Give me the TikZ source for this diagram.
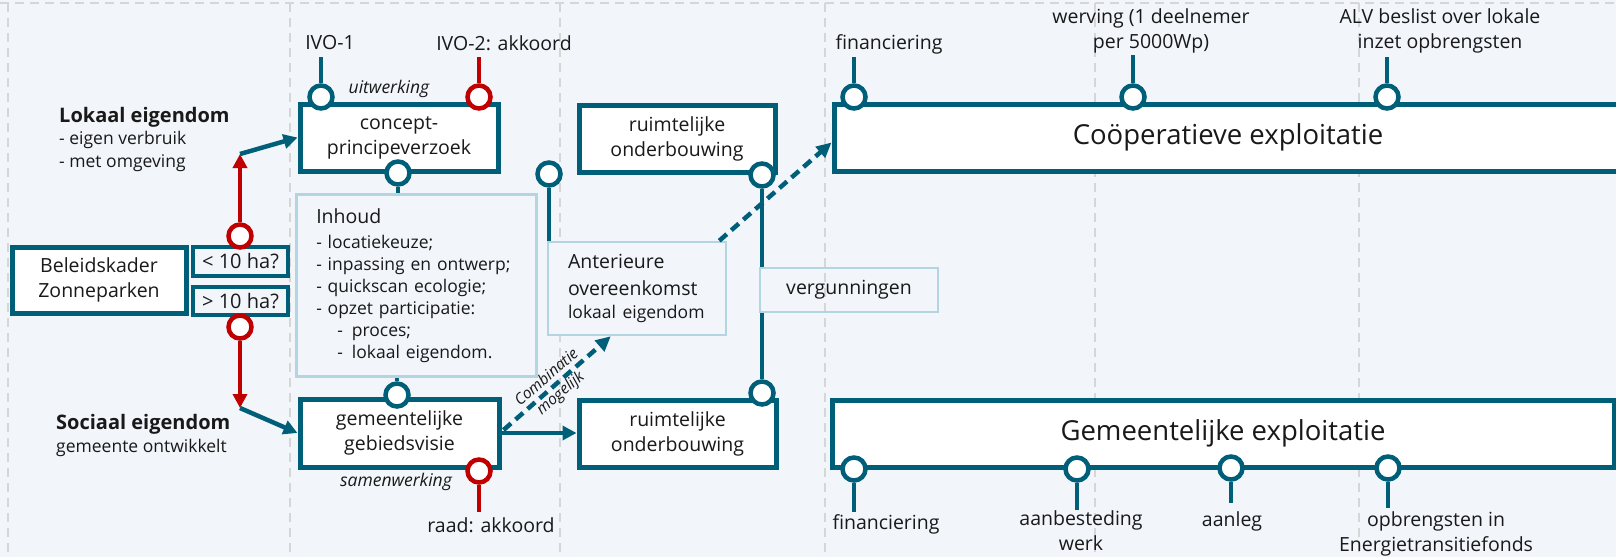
\documentclass[tikz,border=0pt]{standalone}
\usepackage{fontspec}
\setmainfont{Open Sans}
\usetikzlibrary{calc,arrows.meta}

\definecolor{petrol}{RGB}{0,95,120}
\definecolor{signal}{RGB}{192,0,0}
\definecolor{paper}{RGB}{242,245,250}
\definecolor{gridgrey}{RGB}{214,214,214}
\definecolor{paleblue}{RGB}{178,213,225}
\definecolor{ink}{RGB}{25,25,25}

\newcommand\fbody{\fontsize{19.5}{25}\selectfont}
\newcommand\fsmall{\fontsize{17.5}{22}\selectfont}
\newcommand\fnote{\fontsize{17.5}{20}\selectfont\itshape}
\newcommand\fbig{\fontsize{27.5}{32}\selectfont}

\tikzset{
  stagebox/.style={draw=petrol, line width=5pt, fill=white, align=center, font=\fbody, text=ink, inner sep=0pt},
  sizebox/.style={draw=petrol, line width=3.5pt, fill=paper, font=\fontsize{20}{24}\selectfont, text=ink, inner sep=0pt},
  notebox/.style={draw=paleblue, line width=2.5pt, fill=paper, text=ink, inner sep=0pt},
  tdot/.style={circle, draw=petrol, line width=4.5pt, fill=white, minimum size=23pt, inner sep=0pt},
  rdot/.style={tdot, draw=signal},
  tstem/.style={draw=petrol, line width=4.5pt},
  rstem/.style={draw=signal, line width=4.5pt},
  tarrow/.style={tstem, -{Triangle[length=14pt,width=14pt]}},
  rarrow/.style={rstem, -{Triangle[length=14pt,width=14pt]}},
  darrow/.style={tstem, dash pattern=on 10pt off 6pt, -{Triangle[length=15pt,width=14pt]}},
  lbl/.style={font=\fbody, text=ink, align=center, inner sep=0pt},
  note/.style={font=\fnote, text=ink, inner sep=0pt},
  sidehead/.style={anchor=west, font=\bfseries\fontsize{20}{24}\selectfont, text=ink, inner sep=0pt},
  sidetext/.style={anchor=west, font=\fsmall, text=ink, inner sep=0pt},
  guideline/.style={draw=gridgrey, line width=2.5pt, dash pattern=on 9pt off 6pt},
}

\begin{document}
\begin{tikzpicture}[x=1pt,y=-1pt]
\fill[paper] (0,0) rectangle (1616,557);
\useasboundingbox (0,0) rectangle (1616,557);

% column guides
\draw[guideline] (0,3) -- (1616,3);
\foreach \gx in {8,290,560,825,1095,1359} \draw[guideline] (\gx,3) -- (\gx,557);

% explanatory boxes
\node[notebox, anchor=north west, minimum width=240pt, minimum height=182pt,
      text width=200pt, align=left, font=\fsmall] (inhoud) at (295,193)
  {{\fontsize{19.5}{22}\selectfont Inhoud}\\[3pt]
   - locatiekeuze;\\
   - inpassing en ontwerp;\\
   - quickscan ecologie;\\
   - opzet participatie:\\
   \hspace*{21pt}-\hspace{9pt}proces;\\
   \hspace*{21pt}-\hspace{9pt}lokaal eigendom.};
\node[notebox, minimum width=178pt, minimum height=93pt, text width=138pt,
      align=left, font=\fontsize{19.5}{26.5}\selectfont] (anter) at (637,288.5)
  {Anterieure\\overeenkomst\\[-3pt]{\fsmall lokaal eigendom}};
\node[notebox, fill=none, minimum width=178pt, minimum height=44pt, font=\fbody] (verg) at (849,290) {vergunningen};

% process steps
\node[stagebox, minimum width=174pt, minimum height=66pt] (kader) at (99,280) {Beleidskader\\Zonneparken};
\node[sizebox, minimum width=95pt, minimum height=29pt] (klein) at (240.5,261.5) {< 10 ha?};
\node[sizebox, minimum width=95pt, minimum height=28pt] (groot) at (240.5,301) {> 10 ha?};
\node[stagebox, minimum width=198pt, minimum height=67pt] (concept) at (399,137.5) {concept-\\principeverzoek};
\node[stagebox, minimum width=199pt, minimum height=68pt] (gebied) at (399.5,433) {gemeentelijke\\gebiedsvisie};
\node[stagebox, minimum width=196pt, minimum height=67pt] (ruimteA) at (677,138.5) {ruimtelijke\\onderbouwing};
\node[stagebox, minimum width=197pt, minimum height=67pt] (ruimteB) at (677.5,433.5) {ruimtelijke\\onderbouwing};
\node[stagebox, minimum width=788pt, minimum height=67pt, font=\fbig] (coop) at (1228,137.5) {Coöperatieve exploitatie};
\node[stagebox, minimum width=782pt, minimum height=67pt, font=\fbig] (gemex) at (1223,433.5) {Gemeentelijke exploitatie};

% side texts
\node[sidehead] (lokH) at (59,117) {Lokaal eigendom};
\node[sidetext] (lokA) at (59,140) {- eigen verbruik};
\node[sidetext] (lokB) at (59,163) {- met omgeving};
\node[sidehead] (socH) at (56,424) {Sociaal eigendom};
\node[sidetext] (socA) at (56,448) {gemeente ontwikkelt};
\node[note] (uitw) at (389,89) {uitwerking};
\node[note] (samw) at (396,482) {samenwerking};

% milestones
\node[tdot] (dIvoA) at (321,97) {};
\node[rdot] (dIvoB) at (479,97) {};
\node[tdot] (dConc) at (398,173) {};
\node[tdot] (dGeb) at (397,395) {};
\node[rdot] (dRaad) at (479,471) {};
\node[rdot] (dKlein) at (240,236) {};
\node[rdot] (dGroot) at (240,327) {};
\node[tdot] (dAnt) at (549,174) {};
\node[tdot] (dRuA) at (762,175) {};
\node[tdot] (dRuB) at (762,393) {};
\node[tdot] (dFinA) at (854,97) {};
\node[tdot] (dWerv) at (1133,97) {};
\node[tdot] (dAlv) at (1387,97) {};
\node[tdot] (dFinB) at (854,469) {};
\node[tdot] (dAanb) at (1077,469) {};
\node[tdot] (dAanl) at (1231,468) {};
\node[tdot] (dOpbr) at (1388,468) {};

% milestone labels
\node[lbl] (tIvoA) at (330,43) {IVO-1};
\node[lbl] (tIvoB) at (504,43) {IVO-2: akkoord};
\node[lbl] (tRaad) at (491,525) {raad: akkoord};
\node[lbl] (tFinA) at (889,44) {financiering};
\node[lbl] (tWerv) at (1151,30.5) {werving (1 deelnemer\\per 5000Wp)};
\node[lbl] (tAlv) at (1440,30.5) {ALV beslist over lokale\\inzet opbrengsten};
\node[lbl] (tFinB) at (886,524) {financiering};
\node[lbl] (tAanb) at (1081,530.5) {aanbesteding\\werk};
\node[lbl] (tAanl) at (1232,521) {aanleg};
\node[lbl] (tOpbr) at (1436,533.5) {opbrengsten in\\Energietransitiefonds};

% stem ends
\coordinate (sIvoA) at (321,57);
\coordinate (sIvoB) at (479,57);
\coordinate (sRaad) at (479,512);
\coordinate (sFinA) at (854,57);
\coordinate (sWerv) at (1133,55);
\coordinate (sAlv) at (1387,57);
\coordinate (sFinB) at (854,512);
\coordinate (sAanb) at (1077,510);
\coordinate (sAanl) at (1231,503);
\coordinate (sOpbr) at (1388,508);

\draw[tstem] (dIvoA) -- (sIvoA);
\draw[rstem] (dIvoB) -- (sIvoB);
\draw[rstem] (dRaad) -- (sRaad);
\draw[tstem] (dFinA) -- (sFinA);
\draw[tstem] (dWerv) -- (sWerv);
\draw[tstem] (dAlv) -- (sAlv);
\draw[tstem] (dFinB) -- (sFinB);
\draw[tstem] (dAanb) -- (sAanb);
\draw[tstem] (dAanl) -- (sAanl);
\draw[tstem] (dOpbr) -- (sOpbr);

\draw[tstem] (dConc) -- (dConc |- inhoud.north);
\draw[tstem] (dGeb) -- (dGeb |- inhoud.south);
\draw[tstem] (dAnt) -- (dAnt |- anter.north);
\draw[tstem] (dRuA) -- (dRuA |- verg.north);
\draw[tstem] (dRuB) -- (dRuB |- verg.south);

% routes
\coordinate (jTop) at (240,154);
\coordinate (jBot) at (240,408);
\draw[rarrow] (dKlein) -- (jTop);
\draw[tarrow] (jTop) -- (concept.west);
\draw[rarrow] (dGroot) -- (jBot);
\draw[tarrow] (jBot) -- (gebied.west);
\draw[tarrow] (gebied.east) -- (gebied.east -| ruimteB.west);
\draw[darrow] ($(gebied.east)+(2,-3)$) --
  node[sloped, pos=0.47, align=center, inner sep=0pt, text=ink,
       font=\fontsize{15.5}{21}\selectfont\itshape] (comb) {Combinatie\\mogelijk}
  ($(anter.south west)+(64,0)$);
\draw[darrow] ($(anter.north east)+(-8,0)$) -- ($(coop.west)+(0,5)$);
\end{tikzpicture}
\end{document}
